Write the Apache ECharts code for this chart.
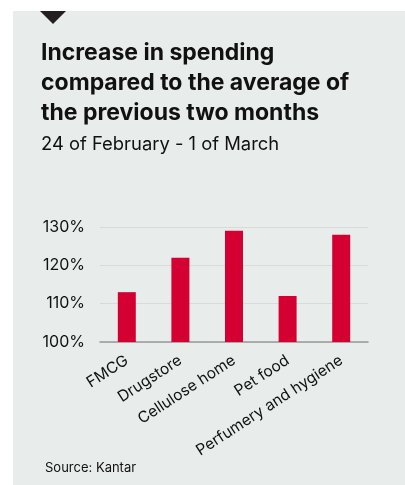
<!DOCTYPE html>
<html><head><meta charset="utf-8">
<script src="https://cdn.jsdelivr.net/npm/echarts@6/dist/echarts.min.js"></script>
<style>html,body{margin:0;padding:0;background:#fff}#c{width:405px;height:485px}</style>
</head><body><div id="c"></div>
<script>
const categories = ['FMCG', 'Drugstore', 'Cellulose home', 'Pet food', 'Perfumery and hygiene'];
const values = [113, 122, 129, 112, 128];
const yTicks = [100, 110, 120, 130];
const titleText = 'Increase in spending\ncompared to the average of\nthe previous two months';
const subtitleText = '24 of February - 1 of March';
const sourceText = 'Source: Kantar';

const FONT = 'Inter, "Noto Sans", sans-serif';
const chart = echarts.init(document.getElementById('c'), null, {renderer: 'canvas'});
chart.setOption({
  animation: false,
  backgroundColor: '#ffffff',
  graphic: [
    {type: 'rect', shape: {x: 13, y: 11, width: 392, height: 474}, style: {fill: '#e8edeb'}, z: -10},
    {type: 'polygon', shape: {points: [[40, 11], [66, 11], [53, 24]]}, style: {fill: '#231f20'}, z: -5},
    {type: 'text', left: 41, top: 38, style: {text: titleText, font: 'bold 23px ' + FONT, lineHeight: 30, fill: '#111'}},
    {type: 'text', left: 41, top: 134, style: {text: subtitleText, font: '18.4px ' + FONT, lineHeight: 20, fill: '#111'}},
    {type: 'text', left: 45, top: 461, style: {text: sourceText, font: '13px ' + FONT, lineHeight: 15, fill: '#111'}}
  ],
  grid: {left: 100, right: 37, top: 227, bottom: 143},
  xAxis: {
    type: 'category', data: categories,
    axisLine: {lineStyle: {color: '#999', width: 1.5}},
    axisTick: {show: false},
    axisLabel: {rotate: 33, interval: 0, fontSize: 15.5, fontFamily: FONT, color: '#111', margin: 17}
  },
  yAxis: {
    type: 'value', min: 100, max: 130, interval: 10,
    axisLine: {show: false}, axisTick: {show: false},
    splitLine: {lineStyle: {color: '#d6dcda', width: 1}},
    axisLabel: {fontSize: 16, fontFamily: FONT, color: '#111', margin: 15,
      formatter: v => yTicks.includes(v) ? v + '%' : ''}
  },
  series: [{type: 'bar', data: values, barWidth: 18, itemStyle: {color: '#d50032'}}]
});
</script></body></html>
